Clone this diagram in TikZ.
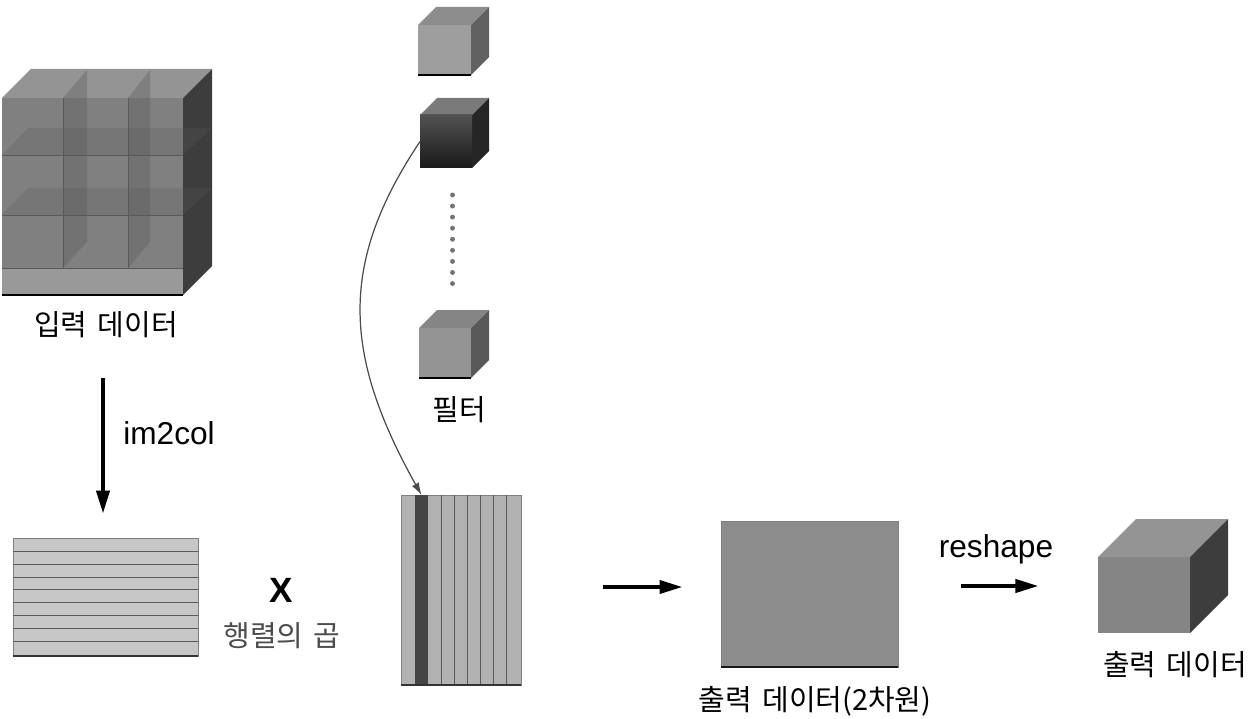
\documentclass[tikz,border=0pt]{standalone}
\usepackage{fontspec}
\setmainfont{Liberation Sans}
\newfontfamily\kr[WordSpace=1.6]{Noto Sans CJK KR}
\usepackage{tikz}
\usetikzlibrary{arrows.meta}

\definecolor{midgrey}{gray}{0.55}
\definecolor{darkgrey}{gray}{0.27}

\tikzset{
	facebox/.style={inner sep=0pt, outer sep=0pt, anchor=north west},
	matbox/.style={facebox, draw=black!50, line width=0.3pt},
	matline/.style={draw=black!65, line width=0.5pt},
	bigarrow/.style={line width=2pt, -{Triangle[length=13pt,width=7.5pt]}},
	korlabel/.style={font=\kr\fontsize{16.5}{16.5}\selectfont, inner sep=0pt},
	latinlabel/.style={font=\fontsize{18}{18}\selectfont, inner sep=0pt}
}

% name, x, y, w, h, depth, front, top, side
\newcommand{\cubeat}[9]{
	\node[facebox, fill=#7, minimum width=#4*0.02cm, minimum height=#5*0.02cm] (#1) at (#2,#3) {};
	\fill[#8] (#1.north west) -- ++(#6,-#6) -- ++(#4,0) -- (#1.north east) -- cycle;
	\fill[#9] (#1.north east) -- ++(#6,-#6) -- ++(0,#5) -- (#1.south east) -- cycle;
}

\begin{document}
\begin{tikzpicture}[x=0.02cm, y=-0.02cm]
	\useasboundingbox (0,0) rectangle (1256,719);

	% big input cube
	\cubeat{incube}{2}{98}{181}{197}{29}{black!50}{black!42}{black!76}
	\fill[black!40] (2,268) rectangle (183,295);
	\fill[black!65, opacity=0.35] (63,98) -- (87,70) -- (87,242) -- (63,268) -- cycle;
	\fill[black!65, opacity=0.35] (128,98) -- (150,70) -- (150,242) -- (128,268) -- cycle;
	\fill[black!65, opacity=0.25] (2,155) -- (28,128) -- (212,128) -- (183,155) -- cycle;
	\fill[black!65, opacity=0.25] (2,215) -- (28,188) -- (212,188) -- (183,215) -- cycle;
	\draw[black!65, line width=0.4pt] (2,155) -- (183,155);
	\draw[black!65, line width=0.4pt] (2,215) -- (183,215);
	\draw[black!65, line width=0.4pt] (2,268) -- (183,268);
	\draw[black!65, line width=0.4pt] (63,98) -- (63,268);
	\draw[black!65, line width=0.4pt] (128,98) -- (128,268);
	\draw[line width=1pt] (incube.south west) -- (incube.south east);
	\node[korlabel] (inlabel) at (106,325) {입력 데이터};

	% filters
	\cubeat{filterone}{418}{25}{53}{50}{18}{black!38}{black!45}{black!62}
	\draw[line width=0.9pt] (filterone.south west) -- (filterone.south east);
	\cubeat{filtertwo}{420}{115}{52}{53}{17}{black!75}{black!52}{black!85}
	\shade[top color=black!68, bottom color=black!90] (filtertwo.north west) rectangle (filtertwo.south east);
	\cubeat{filterthree}{419}{328}{52}{50}{18}{black!42}{black!48}{black!65}
	\draw[line width=0.9pt] (filterthree.south west) -- (filterthree.south east);
	\draw[black!55, line width=2.8pt, line cap=round, dash pattern=on 0pt off 6.3pt] (452.5,195) -- (452.5,288);
	\node[korlabel] (filterlabel) at (459,410) {필터};

	% row matrix
	\node[matbox, fill=black!22, minimum width=3.7cm, minimum height=2.36cm] (rowmat) at (13,538) {};
	\draw[matline] (13,551) -- (198,551);
	\draw[matline] (13,564) -- (198,564);
	\draw[matline] (13,577) -- (198,577);
	\draw[matline] (13,589) -- (198,589);
	\draw[matline] (13,602) -- (198,602);
	\draw[matline] (13,615) -- (198,615);
	\draw[matline] (13,628) -- (198,628);
	\draw[matline] (13,641) -- (198,641);
	\draw[line width=1pt, black!80] (rowmat.south west) -- (rowmat.south east);

	% product sign
	\node[font=\bfseries\fontsize{20}{20}\selectfont, inner sep=0pt] (timessign) at (281,590) {X};
	\node[korlabel, text=black!70] (prodlabel) at (282,636) {행렬의 곱};

	% column matrix
	\node[matbox, fill=black!30, minimum width=2.4cm, minimum height=3.8cm] (colmat) at (401,495) {};
	\node[facebox, fill=darkgrey, minimum width=0.26cm, minimum height=3.8cm] (colband) at (415,495) {};
	\draw[matline] (441,495) -- (441,685);
	\draw[matline] (454,495) -- (454,685);
	\draw[matline] (467,495) -- (467,685);
	\draw[matline] (480,495) -- (480,685);
	\draw[matline] (493,495) -- (493,685);
	\draw[matline] (506,495) -- (506,685);
	\draw[line width=1pt, black!80] (colmat.south west) -- (colmat.south east);

	% output matrix
	\node[matbox, fill=midgrey, minimum width=3.54cm, minimum height=2.92cm] (outmat) at (721,521) {};
	\draw[line width=1.2pt, black!90] (outmat.south west) -- (outmat.south east);
	\node[korlabel] (outmatlabel) at (815,701) {출력 데이터(2차원)};

	% output cube
	\cubeat{outcube}{1098}{557}{92}{76}{38}{black!48}{black!42}{black!76}
	\node[korlabel] (outlabel) at (1175,665) {출력 데이터};

	% connectors
	\coordinate (imstart) at (103,378);
	\coordinate (midstart) at (603,587);
	\coordinate (reshapestart) at (961,586);
	\draw[bigarrow, shorten >=14pt] (imstart) -- (imstart |- rowmat.north);
	\node[latinlabel, anchor=west] (imlabel) at (123,433) {im2col};
	\draw[bigarrow, shorten >=22pt] (midstart) -- (midstart -| outmat.west);
	\draw[bigarrow, shorten >=34pt] (reshapestart) -- (reshapestart -| outcube.west);
	\node[latinlabel] (reshapelabel) at (996,549) {reshape};
	\draw[black!70, line width=0.7pt, -{Latex[length=7pt,width=4.5pt]}] (filtertwo.west) .. controls +(-80,120) and +(-80,-143) .. (colband.north);
\end{tikzpicture}
\end{document}
